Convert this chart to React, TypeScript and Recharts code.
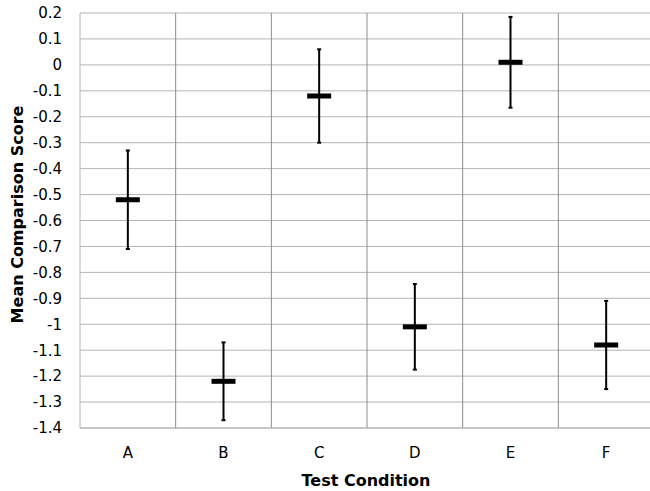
import React from 'react';
import { ComposedChart, Line, ErrorBar, XAxis, YAxis, CartesianGrid, Label } from 'recharts';

const conditions = ['A', 'B', 'C', 'D', 'E', 'F'];
const meanScores = [-0.52, -1.22, -0.12, -1.01, 0.01, -1.08];
const errorMargins = [0.19, 0.15, 0.18, 0.165, 0.175, 0.17];
const yTicks = [-1.4, -1.3, -1.2, -1.1, -1, -0.9, -0.8, -0.7, -0.6, -0.5, -0.4, -0.3, -0.2, -0.1, 0, 0.1, 0.2];

const data = conditions.map((name, i) => ({
  name,
  mean: meanScores[i],
  err: errorMargins[i],
}));

const FONT = '"DejaVu Sans", Verdana, sans-serif';

// thick horizontal dash for the mean
const MeanMark = (props: any) => {
  const { cx, cy, index } = props;
  if (cx == null || cy == null) return <g key={`m-${index}`} />;
  return <rect key={`m-${index}`} x={cx - 12} y={cy - 2.5} width={24} height={5} fill="#000" />;
};

export default function App() {
  return (
    <div style={{ position: 'absolute', left: 0, top: 0, width: 650, height: 491, overflow: 'hidden', background: '#fff' }}>
      <ComposedChart
        width={654}
        height={491}
        data={data}
        margin={{ top: 13, right: 0, bottom: 0, left: 0 }}
        style={{ fontFamily: FONT }}
      >
        <CartesianGrid horizontal vertical={false} stroke="#b4b4b4" />
        <CartesianGrid
          horizontal={false}
          vertical
          stroke="#8c8c8c"
          verticalCoordinatesGenerator={({ offset }: any) =>
            [1, 2, 3, 4, 5].map(i => offset.left + (i * offset.width) / conditions.length)
          }
        />
        <XAxis
          dataKey="name"
          type="category"
          scale="band"
          height={63}
          tickSize={0}
          tickMargin={19}
          axisLine={{ stroke: '#b4b4b4' }}
          tickLine={false}
          tick={{ fill: '#000', fontSize: 15, fontFamily: FONT }}
        >
          <Label
            content={({ viewBox }: any) => (
              <text
                x={viewBox.x + viewBox.width / 2 - 1}
                y={viewBox.y + 58}
                textAnchor="middle"
                fontSize={16}
                fontWeight="bold"
                fontFamily={FONT}
                fill="#000"
              >
                Test Condition
              </text>
            )}
          />
        </XAxis>
        <YAxis
          type="number"
          width={80}
          domain={[-1.4, 0.2]}
          ticks={yTicks}
          interval={0}
          tickSize={0}
          tickMargin={18}
          axisLine={{ stroke: '#b4b4b4' }}
          tickLine={false}
          tick={{ fill: '#000', fontSize: 15, fontFamily: FONT }}
          tickFormatter={(v: number) => String(v)}
        >
          <Label
            content={({ viewBox }: any) => {
              const x = viewBox.x + 17;
              const y = viewBox.y + viewBox.height / 2 - 6;
              return (
                <text
                  x={x}
                  y={y}
                  transform={`rotate(-90, ${x}, ${y})`}
                  textAnchor="middle"
                  dominantBaseline="central"
                  fontSize={16}
                  fontWeight="bold"
                  fontFamily={FONT}
                  fill="#000"
                >
                  Mean Comparison Score
                </text>
              );
            }}
          />
        </YAxis>
        <Line
          dataKey="mean"
          stroke="none"
          isAnimationActive={false}
          dot={MeanMark}
          activeDot={false}
          legendType="none"
        >
          <ErrorBar dataKey="err" direction="y" width={2} stroke="#000" strokeWidth={2} isAnimationActive={false} />
        </Line>
      </ComposedChart>
    </div>
  );
}
